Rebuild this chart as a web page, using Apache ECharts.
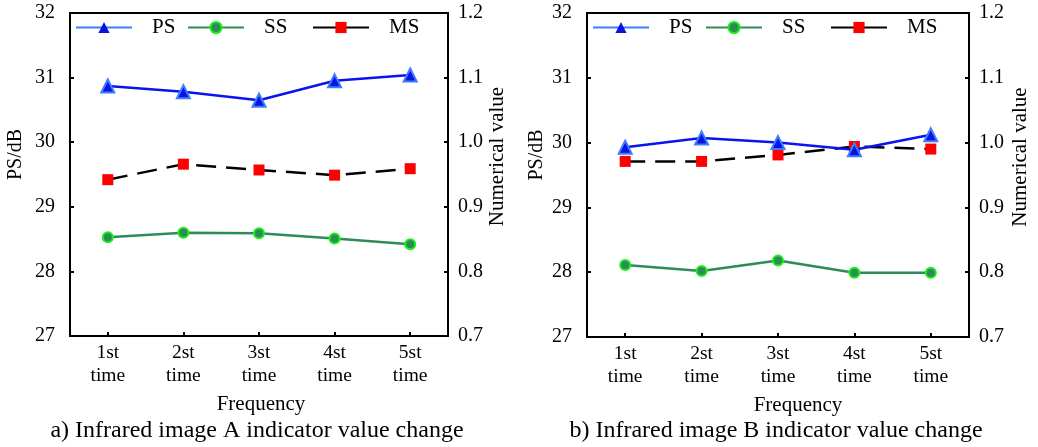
<!DOCTYPE html>
<html>
<head>
<meta charset="utf-8">
<script src="https://cdn.jsdelivr.net/npm/echarts@6/dist/echarts.min.js"></script>
<style>
  html, body { margin: 0; padding: 0; background: #fff; }
  #main { width: 1038px; height: 447px; }
</style>
</head>
<body>
<div id="main"></div>
<script>
var categories = ['1st\ntime', '2st\ntime', '3st\ntime', '4st\ntime', '5st\ntime'];
var leftTicks = [27, 28, 29, 30, 31, 32];
var rightTicks = [0.7, 0.8, 0.9, 1.0, 1.1, 1.2];

// image A
var psA = [30.87, 30.78, 30.65, 30.95, 31.04];
var ssA = [28.53, 28.60, 28.59, 28.51, 28.42];
var msA = [0.942, 0.966, 0.957, 0.949, 0.959];
// image B
var psB = [29.93, 30.07, 30.00, 29.89, 30.12];
var ssB = [28.11, 28.02, 28.18, 27.99, 27.99];
var msB = [0.971, 0.971, 0.981, 0.994, 0.990];

var captions = ['a) Infrared image A indicator value change', 'b) Infrared image B indicator value change'];

var chart = echarts.init(document.getElementById('main'));
var font = 'Liberation Serif, Times New Roman, serif';
var textStyle = { color: '#000', fontFamily: font, fontSize: 20 };
var axisLine = { show: true, lineStyle: { color: '#000', width: 2 } };
var axisTick = { show: true, inside: true, length: 4, lineStyle: { color: '#000', width: 2 } };

var grids = [
  { left: 70, top: 13, width: 378, height: 323 },
  { left: 587, top: 13, width: 382, height: 324 }
];

function xAxisFor(i, namePad) {
  return {
    type: 'category',
    gridIndex: i,
    data: categories,
    boundaryGap: true,
    axisLine: axisLine,
    axisTick: { show: true, inside: true, length: 4, alignWithLabel: true, lineStyle: { color: '#000', width: 2 } },
    axisLabel: Object.assign({ margin: 5, lineHeight: 23 }, textStyle, { fontSize: 19.5 }),
    name: 'Frequency',
    nameLocation: 'middle',
    nameGap: 58,
    nameTextStyle: Object.assign({ padding: namePad }, textStyle, { fontSize: 21 })
  };
}

function yLeft(i, gap) {
  return {
    type: 'value', gridIndex: i, position: 'left',
    min: leftTicks[0], max: leftTicks[leftTicks.length - 1], interval: 1,
    axisLine: axisLine, axisTick: axisTick, splitLine: { show: false },
    axisLabel: Object.assign({ margin: 15 }, textStyle),
    name: 'PS/dB', nameLocation: 'middle', nameRotate: 90, nameGap: gap,
    nameTextStyle: Object.assign({ padding: [0, 0, 0, 40] }, textStyle)
  };
}

function yRight(i, gap) {
  return {
    type: 'value', gridIndex: i, position: 'right',
    min: rightTicks[0], max: rightTicks[rightTicks.length - 1], interval: 0.1,
    axisLine: axisLine, axisTick: axisTick, splitLine: { show: false },
    axisLabel: Object.assign({ margin: 10, formatter: function (v) { return v.toFixed(1); } }, textStyle),
    name: 'Numerical value', nameLocation: 'middle', nameRotate: 90, nameGap: gap,
    nameTextStyle: Object.assign({ padding: [0, 0, 0, 36] }, textStyle, { fontSize: 21 })
  };
}

function seriesFor(i, ps, ss, ms) {
  return [{
    name: 'PS', type: 'line', xAxisIndex: i, yAxisIndex: i * 2, data: ps,
    symbol: 'triangle', symbolSize: 13,
    lineStyle: { color: '#0a14f0', width: 2.5 },
    itemStyle: { color: '#0a14e0', borderColor: '#3c7cff', borderWidth: 2 },
    z: 3
  }, {
    name: 'SS', type: 'line', xAxisIndex: i, yAxisIndex: i * 2, data: ss,
    symbol: 'circle', symbolSize: 10,
    lineStyle: { color: '#2e8b57', width: 2.5 },
    itemStyle: { color: '#2e8b57', borderColor: '#19f019', borderWidth: 2 }
  }, {
    name: 'MS', type: 'line', xAxisIndex: i, yAxisIndex: i * 2 + 1, data: ms,
    symbol: 'rect', symbolSize: 11,
    lineStyle: { color: '#000', width: 2.5, type: [20, 10] },
    itemStyle: { color: '#ff0000', borderWidth: 0 },
    z: 2
  }];
}

// one legend per item so each sits where the original put it
var legendSpots = [
  [75, 187, 312],
  [592, 705, 830]
];
var legendNames = ['PS', 'SS', 'MS'];
var legendLineColors = ['#3c7cff', '#2e8b57', '#000'];
var legends = [];
legendSpots.forEach(function (spots) {
  spots.forEach(function (x, k) {
    legends.push({
      left: x, top: 17, padding: 0,
      itemWidth: 56, itemHeight: 14, itemGap: 0,
      textStyle: Object.assign({ padding: [0, 0, 0, 15] }, textStyle, { fontSize: 21 }),
      data: [{ name: legendNames[k], itemStyle: { borderWidth: k === 1 ? 2 : 0 }, lineStyle: { color: legendLineColors[k], type: 'solid' } }]
    });
  });
});

var option = {
  animation: false,
  backgroundColor: '#fff',
  textStyle: { fontFamily: font },
  title: [
    { text: captions[0], left: 257, top: 419, textAlign: 'center', padding: 0, textStyle: { color: '#000', fontFamily: font, fontSize: 24, fontWeight: 'normal' } },
    { text: captions[1], left: 776, top: 419, textAlign: 'center', padding: 0, textStyle: { color: '#000', fontFamily: font, fontSize: 24, fontWeight: 'normal' } }
  ],
  legend: legends,
  grid: grids.map(function (g) {
    return Object.assign({ show: true, borderColor: '#000', borderWidth: 2, backgroundColor: 'transparent' }, g);
  }),
  xAxis: [xAxisFor(0, [0, 0, 0, 4]), xAxisFor(1, [0, 0, 0, 40])],
  yAxis: [yLeft(0, 44), yRight(0, 37), yLeft(1, 40), yRight(1, 41)],
  series: seriesFor(0, psA, ssA, msA).concat(seriesFor(1, psB, ssB, msB))
};
chart.setOption(option);
</script>
</body>
</html>
